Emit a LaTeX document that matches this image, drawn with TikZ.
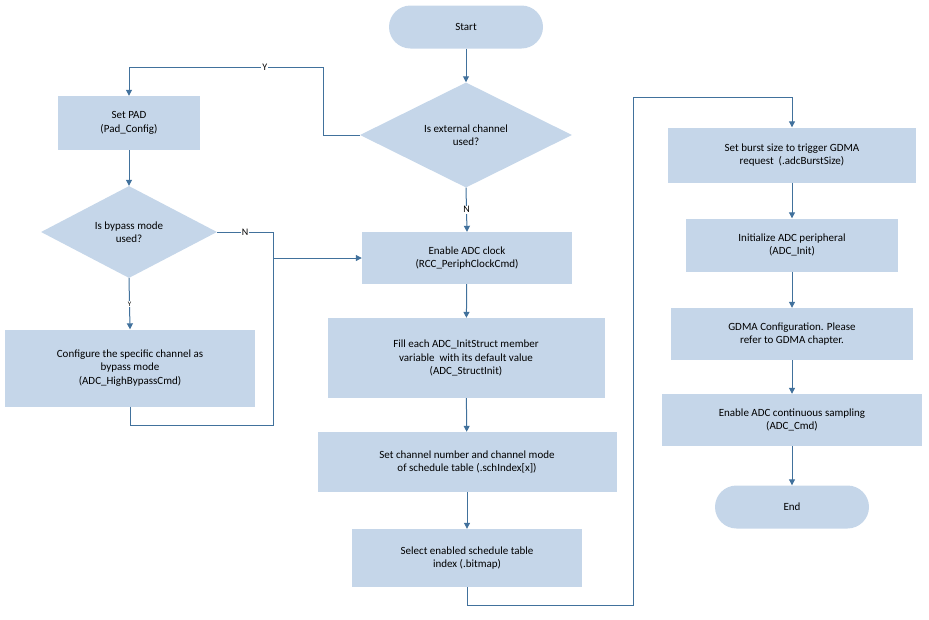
\documentclass[tikz,border=0pt]{standalone}
\usepackage{fontspec}
\setmainfont{Carlito}
\usetikzlibrary{shapes.geometric,arrows.meta}
\definecolor{boxfill}{HTML}{C5D6E9}
\definecolor{linec}{HTML}{41719C}
\begin{document}
\begin{tikzpicture}[x=1pt,y=-1pt,
  every node/.style={font=\fontsize{11}{13.5}\selectfont, text=black, align=center},
  box/.style={fill=boxfill, draw=none, inner sep=0pt},
  pill/.style={fill=boxfill, draw=none, rounded corners=21.5pt, minimum width=154pt, minimum height=43pt},
  dia/.style={fill=boxfill, draw=none, diamond, inner sep=0pt},
  line/.style={draw=linec, line width=1pt},
  arr/.style={line, -{Triangle[length=6pt,width=6pt]}},
  lab/.style={font=\fontsize{10}{12}\selectfont}]
\useasboundingbox (0,0) rectangle (929,619);
\node[pill] (start) at (466,27) {Start};
\node[dia, minimum width=212pt, minimum height=94pt] (ext) at (466,135) {Is external channel\\used?};
\node[box, minimum width=142pt, minimum height=54pt] (pad) at (129,123) {Set PAD\\(Pad\_Config)};
\node[dia, minimum width=176pt, minimum height=92pt] (byp) at (129,232) {Is bypass mode\\used?};
\node[box, minimum width=250pt, minimum height=77pt] (cfg) at (130,368) {Configure the specific channel as\\bypass mode\\(ADC\_HighBypassCmd)};
\node[box, minimum width=210pt, minimum height=52pt] (clk) at (467,258) {Enable ADC clock\\(RCC\_PeriphClockCmd)};
\node[box, minimum width=277pt, minimum height=80pt] (fill) at (466,358) {Fill each ADC\_InitStruct member\\variable\ \ with its default value\\(ADC\_StructInit)};
\node[box, minimum width=299pt, minimum height=60pt] (chn) at (467,462) {Set channel number and channel mode\\of schedule table (.schIndex[x])};
\node[box, minimum width=230pt, minimum height=58pt] (sel) at (467,558) {Select enabled schedule table\\index (.bitmap)};
\node[box, minimum width=248pt, minimum height=55pt] (bur) at (792,155) {Set burst size to trigger GDMA\\request\ \ (.adcBurstSize)};
\node[box, minimum width=212pt, minimum height=53pt] (ini) at (792,245) {Initialize ADC peripheral\\(ADC\_Init)};
\node[box, minimum width=242pt, minimum height=52pt] (gdma) at (792,334) {GDMA Configuration. Please\\refer to GDMA chapter.};
\node[box, minimum width=260pt, minimum height=52pt] (cont) at (792,420) {Enable ADC continuous sampling\\(ADC\_Cmd)};
\node[pill] (end) at (792,507) {End};
\coordinate (j1) at (323,135); \coordinate (j2) at (323,67); \coordinate (j3) at (129,67);
\coordinate (b1) at (273,232); \coordinate (b2) at (273,258);
\coordinate (c1) at (130,425); \coordinate (c2) at (273,425);
\coordinate (s1) at (467,605); \coordinate (s2) at (633,605); \coordinate (s3) at (633,97); \coordinate (s4) at (792,97);
\draw[arr] (start) -- (ext);
\draw[arr] (ext.west) -- (j1) -- (j2) -- node[lab, pos=0.3, fill=white, inner sep=1pt]{Y} (j3) -- (pad.north);
\draw[arr] (ext.south) -- node[lab, fill=white, inner sep=1pt]{N} (clk.north);
\draw[arr] (pad) -- (byp);
\draw[line] (byp.east) -- node[lab, fill=white, inner sep=1pt]{N} (b1) -- (b2);
\draw[arr] (cfg.south) -- (c1) -- (c2) -- (b2) -- (clk.west);
\draw[arr] (byp.south) -- node[font=\fontsize{7}{8}\selectfont, fill=white, inner sep=1pt]{Y} (cfg.north);
\draw[arr] (clk) -- (fill);
\draw[arr] (fill) -- (chn);
\draw[arr] (chn) -- (sel);
\draw[arr] (sel.south) -- (s1) -- (s2) -- (s3) -- (s4) -- (bur.north);
\draw[arr] (bur) -- (ini);
\draw[arr] (ini) -- (gdma);
\draw[arr] (gdma) -- (cont);
\draw[arr] (cont) -- (end);
\end{tikzpicture}
\end{document}
